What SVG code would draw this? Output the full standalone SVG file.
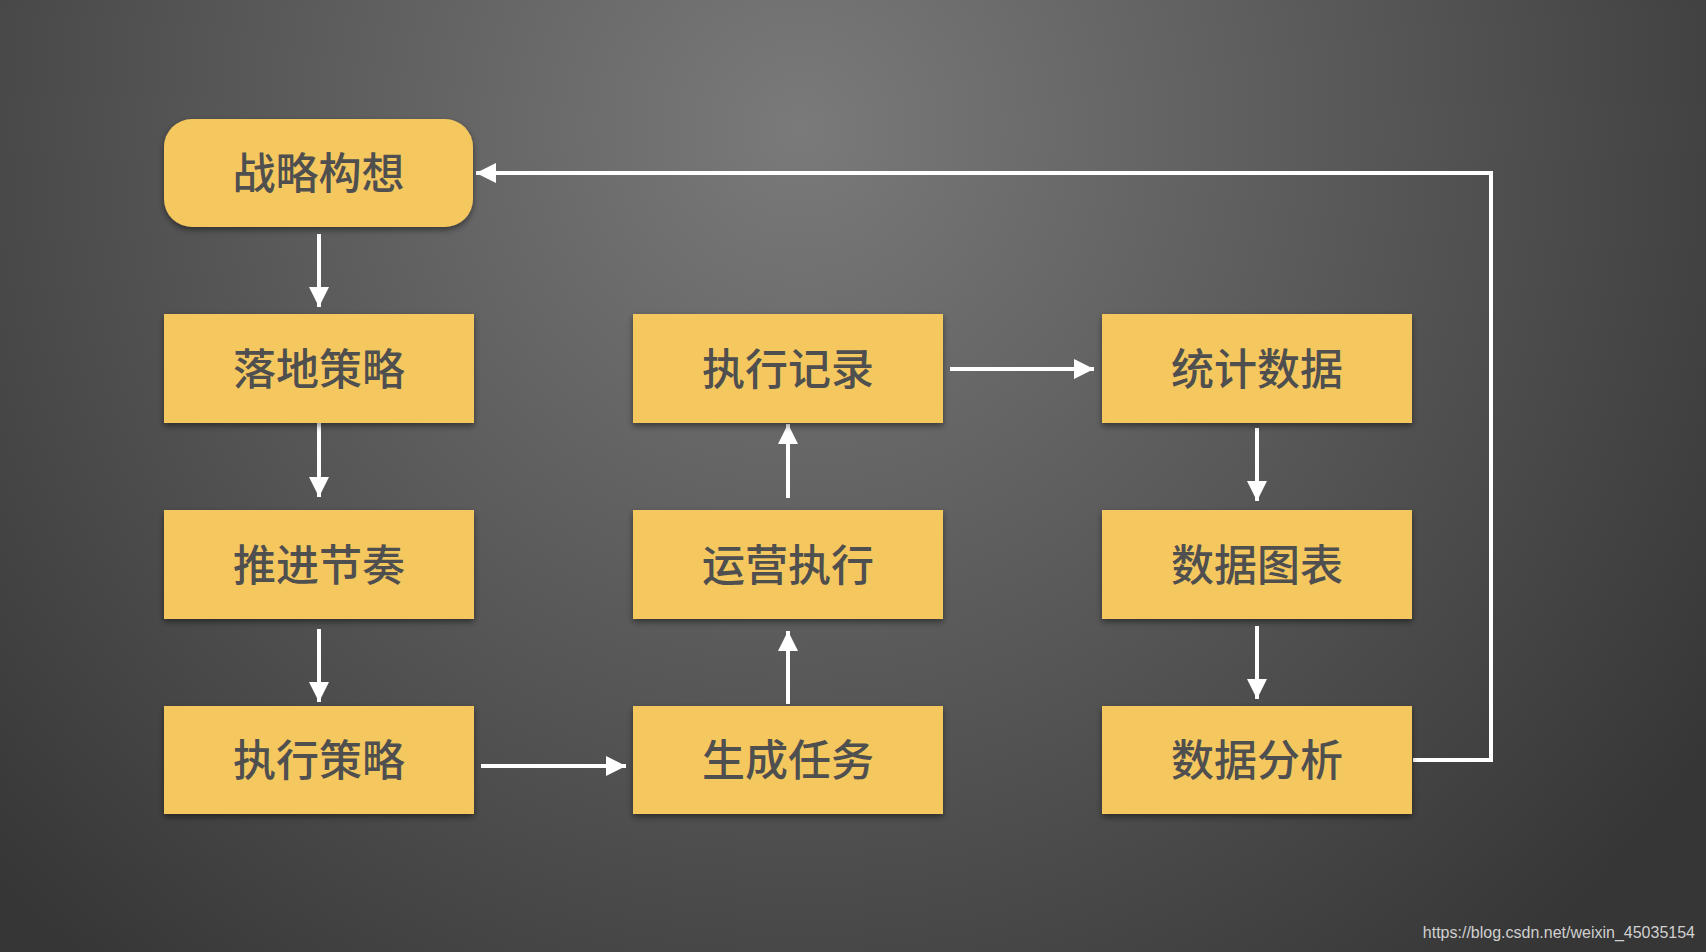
<svg xmlns="http://www.w3.org/2000/svg" width="1706" height="952" viewBox="0 0 1706 952">
<defs>
<radialGradient id="bg" cx="800" cy="130" r="1100" gradientUnits="userSpaceOnUse">
<stop offset="0" stop-color="#7a7a7a"/>
<stop offset="0.55" stop-color="#555555"/>
<stop offset="1" stop-color="#363636"/>
</radialGradient>
<filter id="sh" x="-10%" y="-10%" width="130%" height="140%">
<feDropShadow dx="0" dy="3" stdDeviation="3" flood-color="#000" flood-opacity="0.45"/>
</filter>
<marker id="ah" viewBox="0 0 20 20" refX="20" refY="10" markerWidth="20" markerHeight="20" markerUnits="userSpaceOnUse" orient="auto">
<path d="M0,0 L20,10 L0,20 Z" fill="#ffffff"/>
</marker>
<style>
.box{fill:#f5c85e;filter:url(#sh)}
.lbl{font-family:"Noto Sans CJK SC","Noto Sans CJK JP",sans-serif;font-size:43px;font-weight:500;fill:#4f4f4f;text-anchor:middle;dominant-baseline:central}
.con{stroke:#ffffff;stroke-width:4;fill:none}
.arr{marker-end:url(#ah)}
</style>
</defs>
<rect x="0" y="0" width="1706" height="952" fill="url(#bg)"/>
<g id="connectors">
<line class="con arr" x1="319" y1="234" x2="319" y2="307"/>
<line class="con arr" x1="319" y1="423" x2="319" y2="497"/>
<line class="con arr" x1="319" y1="629" x2="319" y2="702"/>
<line class="con arr" x1="481" y1="766" x2="626" y2="766"/>
<line class="con arr" x1="788" y1="704" x2="788" y2="631"/>
<line class="con arr" x1="788" y1="498" x2="788" y2="424"/>
<line class="con arr" x1="950" y1="369" x2="1094" y2="369"/>
<line class="con arr" x1="1257" y1="428" x2="1257" y2="501"/>
<line class="con arr" x1="1257" y1="626" x2="1257" y2="699"/>
<polyline class="con arr" points="1413,760 1491,760 1491,173 476,173"/>
</g>
<g id="n1"><rect class="box" x="164" y="119" width="309" height="108" rx="28" ry="28"/><text class="lbl" x="318.5" y="170">战略构想</text></g>
<g id="n2"><rect class="box" x="164" y="314" width="310" height="109"/><text class="lbl" x="319" y="365.5">落地策略</text></g>
<g id="n3"><rect class="box" x="164" y="510" width="310" height="109"/><text class="lbl" x="319" y="561.5">推进节奏</text></g>
<g id="n4"><rect class="box" x="164" y="706" width="310" height="108"/><text class="lbl" x="319" y="757">执行策略</text></g>
<g id="n5"><rect class="box" x="633" y="706" width="310" height="108"/><text class="lbl" x="788" y="757">生成任务</text></g>
<g id="n6"><rect class="box" x="633" y="510" width="310" height="109"/><text class="lbl" x="788" y="561.5">运营执行</text></g>
<g id="n7"><rect class="box" x="633" y="314" width="310" height="109"/><text class="lbl" x="788" y="365.5">执行记录</text></g>
<g id="n8"><rect class="box" x="1102" y="314" width="310" height="109"/><text class="lbl" x="1257" y="365.5">统计数据</text></g>
<g id="n9"><rect class="box" x="1102" y="510" width="310" height="109"/><text class="lbl" x="1257" y="561.5">数据图表</text></g>
<g id="n10"><rect class="box" x="1102" y="706" width="310" height="108"/><text class="lbl" x="1257" y="757">数据分析</text></g>
<text x="1695" y="938" font-family="Liberation Sans, Arial, sans-serif" font-size="16" fill="#d0d0d0" text-anchor="end">https://blog.csdn.net/weixin_45035154</text>
</svg>
